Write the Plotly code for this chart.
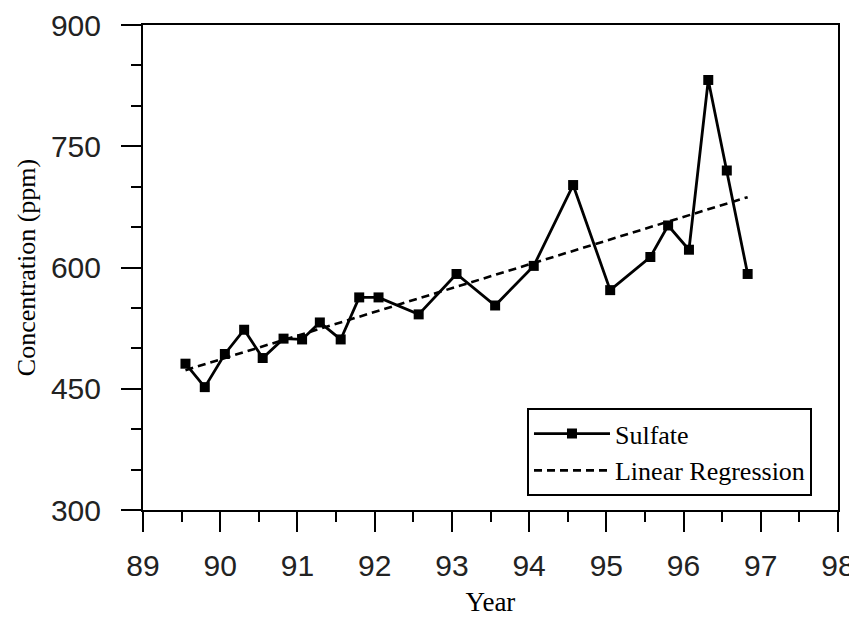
import plotly.graph_objects as go

years = [89.55, 89.80, 90.06, 90.31, 90.55, 90.82, 91.06, 91.29, 91.56, 91.80, 92.05,
         92.57, 93.06, 93.56, 94.06, 94.57, 95.05, 95.57, 95.80, 96.07, 96.32, 96.56, 96.83]
sulfate = [481, 452, 493, 523, 488, 512, 511, 532, 511, 563, 563,
           542, 592, 553, 602, 702, 572, 613, 652, 622, 832, 720, 592]
reg_years = [89.55, 96.83]
reg_values = [473, 687]

x_ticks = list(range(89, 99))
y_ticks = [300, 450, 600, 750, 900]

fig = go.Figure()
fig.add_trace(go.Scatter(x=years, y=sulfate, mode="lines+markers", name="Sulfate",
                         line=dict(color="black", width=2.8),
                         marker=dict(symbol="square", size=10, color="black")))
fig.add_trace(go.Scatter(x=reg_years, y=reg_values, mode="lines", name="Linear Regression",
                         line=dict(color="black", width=2.6, dash="8px,5px")))

tickfont = dict(family="Liberation Sans", size=30, color="#222")
fig.update_layout(
    width=849, height=609,
    margin=dict(l=135, r=19, t=17, b=107),
    paper_bgcolor="white", plot_bgcolor="white",
    showlegend=True,
    legend=dict(x=0.5525, y=0.210, xanchor="left", yanchor="top",
                bordercolor="black", borderwidth=2,
                font=dict(family="Liberation Serif", size=26, color="black"),
                bgcolor="white", tracegroupgap=0, itemwidth=76),
    xaxis=dict(range=[89, 98], tickvals=x_ticks, ticktext=[str(v) for v in x_ticks],
               automargin=False,
               showgrid=False, zeroline=False, showline=True, linecolor="black", linewidth=2,
               mirror=True, ticks="outside", ticklen=20, tickwidth=2, tickcolor="black",
               minor=dict(dtick=0.5, tick0=89, ticks="outside", ticklen=10, tickwidth=2, tickcolor="black", showgrid=False),
               tickfont=tickfont, ticklabelstandoff=8,
               title=dict(text="Year", font=dict(family="Liberation Serif", size=27, color="black"), standoff=18)),
    yaxis=dict(range=[300, 900], tickvals=y_ticks, ticktext=[str(v) for v in y_ticks],
               automargin=False,
               showgrid=False, zeroline=False, showline=True, linecolor="black", linewidth=2,
               mirror=True, ticks="outside", ticklen=20, tickwidth=2, tickcolor="black",
               minor=dict(dtick=50, tick0=300, ticks="outside", ticklen=10, tickwidth=2, tickcolor="black", showgrid=False),
               tickfont=tickfont, ticklabelstandoff=14,
               title=dict(text="Concentration (ppm)", font=dict(family="Liberation Serif", size=26, color="black"), standoff=8)),
)
fig.write_html("out.html")
